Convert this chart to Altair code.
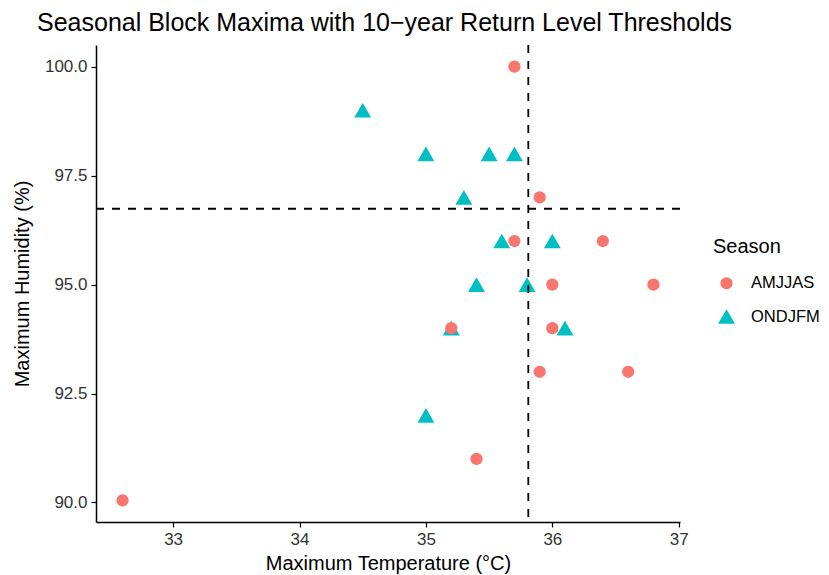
import altair as alt
import pandas as pd

# ONDJFM drawn first so AMJJAS circles sit on top
ond_temp = [34.5, 35.0, 35.5, 35.7, 35.3, 35.6, 36.0, 35.4, 35.8, 35.2, 36.1, 35.0]
ond_hum = [99.0, 98.0, 98.0, 98.0, 97.0, 96.0, 96.0, 95.0, 95.0, 94.0, 94.0, 92.0]
amj_temp = [35.7, 35.9, 35.7, 36.4, 36.0, 36.8, 35.2, 36.0, 35.9, 36.6, 35.4, 32.6]
amj_hum = [100.0, 97.0, 96.0, 96.0, 95.0, 95.0, 94.0, 94.0, 93.0, 93.0, 91.0, 90.05]

temp_threshold = 35.81
hum_threshold = 96.74

seasons = ["AMJJAS", "ONDJFM"]
colors = ["#F8766D", "#00BFC4"]

df = pd.DataFrame({
    "temp": ond_temp + amj_temp,
    "hum": ond_hum + amj_hum,
    "Season": ["ONDJFM"] * len(ond_temp) + ["AMJJAS"] * len(amj_temp),
})

W, H = 584, 477
font = "Liberation Sans"

xscale = alt.Scale(domain=[32.39, 37.01], nice=False, zero=False)
yscale = alt.Scale(domain=[89.5525, 100.4975], nice=False, zero=False)

points = alt.Chart(df).mark_point(filled=True, opacity=1, strokeWidth=0).encode(
    x=alt.X("temp:Q", scale=xscale,
            axis=alt.Axis(title="Maximum Temperature (°C)", values=[33, 34, 35, 36, 37],
                          format="d", titleX=W / 2, titleY=41, titleBaseline="middle")),
    y=alt.Y("hum:Q", scale=yscale,
            axis=alt.Axis(title="Maximum Humidity (%)", values=[90, 92.5, 95, 97.5, 100],
                          format=".1f", titleX=-74, titleY=H / 2, titleAngle=-90,
                          titleBaseline="middle", titleAlign="center")),
    color=alt.Color("Season:N", scale=alt.Scale(domain=seasons, range=colors), title="Season"),
    shape=alt.Shape("Season:N", scale=alt.Scale(domain=seasons, range=["circle", "triangle-up"]), title="Season"),
    size=alt.Size("Season:N", scale=alt.Scale(domain=seasons, range=[150, 285]), title="Season"),
)

vline = alt.Chart(pd.DataFrame({"v": [temp_threshold]})).mark_rule(
    color="black", strokeDash=[8, 8], strokeWidth=1.8).encode(x=alt.X("v:Q", scale=xscale))
hline = alt.Chart(pd.DataFrame({"h": [hum_threshold]})).mark_rule(
    color="black", strokeDash=[8, 8], strokeWidth=1.8).encode(y=alt.Y("h:Q", scale=yscale))

chart = alt.layer(points, vline, hline).properties(
    width=W, height=H,
    title=alt.TitleParams("Seasonal Block Maxima with 10\u2212year Return Level Thresholds",
                          anchor="start", frame="group", dx=-59, dy=28, offset=16,
                          baseline="alphabetic",
                          fontSize=25, font=font, fontWeight="normal", color="black"),
    autosize=alt.AutoSizeParams(type="none"),
    padding={"left": 88, "top": 37, "right": 141, "bottom": 58},
).configure_view(stroke=None).configure_axis(
    domainColor="black", domainWidth=1.5, tickColor="black", tickWidth=1.2, tickSize=5,
    labelPadding=4, labelFont=font, labelFontSize=17, labelColor="#333333",
    titleFont=font, titleFontSize=20, titleFontWeight="normal", titleColor="black",
    grid=False,
).configure_legend(
    orient="none", legendX=617, legendY=192, titleFont=font, titleFontSize=20,
    titleFontWeight="normal", titleColor="black", labelFont=font, labelFontSize=16.5,
    labelColor="black", titlePadding=18, rowPadding=16, symbolOffset=5, labelOffset=16,
    symbolStrokeWidth=0,
)

chart.save("out.html", embed_options={"renderer": "svg", "actions": False})
